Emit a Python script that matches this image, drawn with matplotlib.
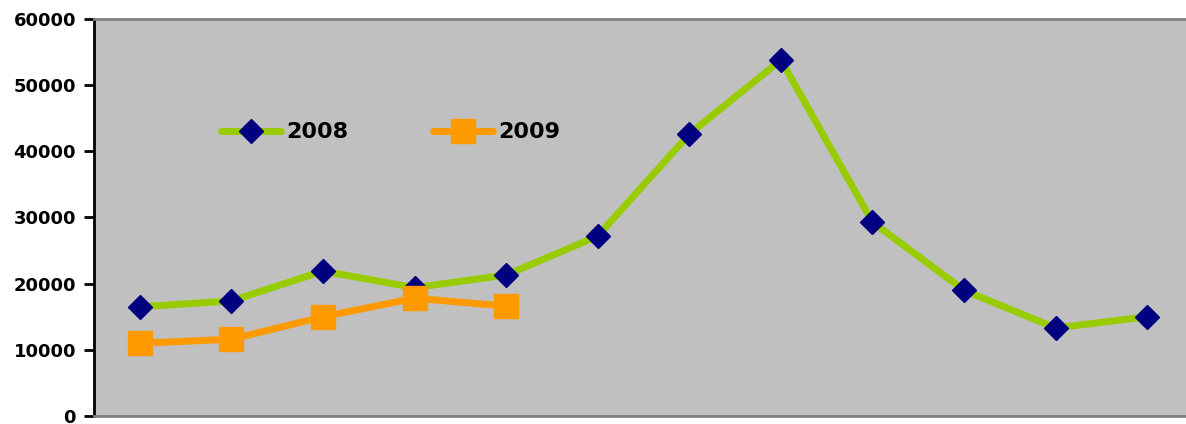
import matplotlib
matplotlib.use("Agg")
import matplotlib.pyplot as plt
import numpy as np

# values
months = list(range(1, 13))
sales_2008 = [16500, 17400, 21900, 19400, 21300, 27200, 42600, 53800, 29300, 19000, 13300, 15000]
sales_2009 = [11000, 11600, 15000, 17800, 16600]
y_ticks = [0, 10000, 20000, 30000, 40000, 50000, 60000]

plt.rcParams['font.family'] = ['DejaVu Sans']
plt.rcParams['font.weight'] = 'bold'

fig = plt.figure(figsize=(11.86, 4.24), dpi=100)
# plot area runs past the right edge of the picture, as in the reference
ax = fig.add_axes([94 / 1186, 8 / 424, 1099 / 1186, 397 / 424])
ax.set_facecolor('#C0C0C0')

x08 = np.arange(len(sales_2008)) + 0.5
x09 = np.arange(len(sales_2009)) + 0.5

ax.plot(x08, sales_2008, color='#99CC00', linewidth=5, marker='D',
        markersize=12, markerfacecolor='#000080', markeredgecolor='#000080',
        label='2008', zorder=3, solid_capstyle='round')
ax.plot(x09, sales_2009, color='#FF9900', linewidth=5, marker='s',
        markersize=17.5, markerfacecolor='#FF9900', markeredgecolor='#FF9900',
        label='2009', zorder=4, solid_capstyle='round')

ax.set_xlim(0, 12)
ax.set_ylim(0, 60000)
ax.set_yticks(y_ticks)
ax.set_yticklabels([str(v) for v in y_ticks], fontsize=13, fontweight='bold')
ax.set_xticks([])
ax.tick_params(axis='y', direction='out', length=7, width=2, color='black', pad=6)

ax.spines['left'].set_color('black')
ax.spines['left'].set_linewidth(2)
for side in ('top', 'bottom', 'right'):
    ax.spines[side].set_color('#808080')
    ax.spines[side].set_linewidth(2)

leg = ax.legend(loc='upper left', bbox_to_anchor=(0.097, 0.79), ncol=2, frameon=False,
                handlelength=2.7, columnspacing=3.8, handletextpad=0.25,
                prop={'size': 16, 'weight': 'bold'})

fig.savefig('out.png', dpi=100)
